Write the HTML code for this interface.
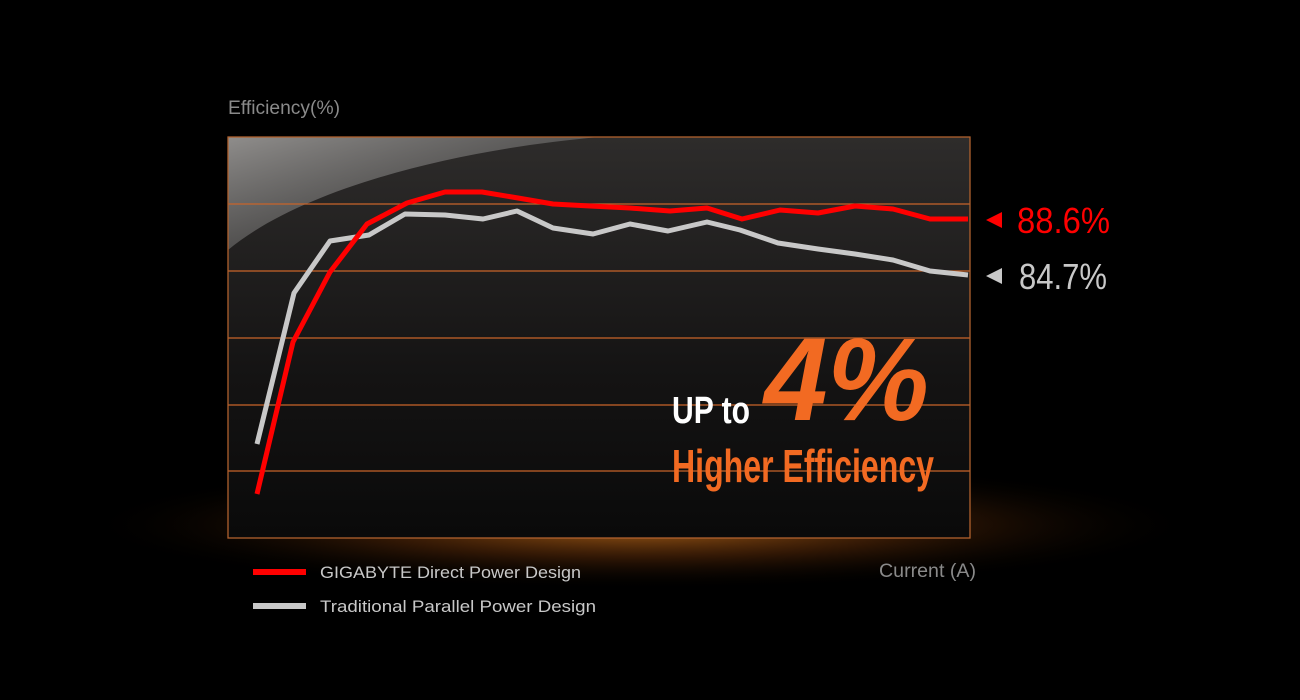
<!DOCTYPE html>
<html><head><meta charset="utf-8"><style>
html,body{margin:0;padding:0;background:#000;width:1300px;height:700px;overflow:hidden}
</style></head><body>
<svg width="1300" height="700" xmlns="http://www.w3.org/2000/svg" style="display:block">
<defs>
<radialGradient id="glow" cx="0.5" cy="0.5" r="0.5">
<stop offset="0" stop-color="#d0781e" stop-opacity="0.85"/>
<stop offset="0.5" stop-color="#7a3a0c" stop-opacity="0.4"/>
<stop offset="1" stop-color="#000" stop-opacity="0"/>
</radialGradient>
<linearGradient id="bg" x1="0" y1="0" x2="0" y2="1">
<stop offset="0" stop-color="#2e2c2b"/>
<stop offset="0.6" stop-color="#141313"/>
<stop offset="1" stop-color="#0a0a0a"/>
</linearGradient>
<linearGradient id="gloss" x1="0" y1="0" x2="1" y2="1">
<stop offset="0" stop-color="#9a9896" stop-opacity="0.9"/>
<stop offset="1" stop-color="#555" stop-opacity="0.2"/>
</linearGradient>
</defs>
<rect width="1300" height="700" fill="#000"/>
<ellipse cx="640" cy="525" rx="560" ry="65" fill="url(#glow)"/>
<rect x="228" y="137" width="742" height="401" fill="url(#bg)"/>
<path d="M228,137 L600,137 C450,150 300,190 228,250 Z" fill="url(#gloss)"/>
<g stroke="#c8642a" stroke-width="1.3">
<line x1="228" y1="204" x2="970" y2="204"/>
<line x1="228" y1="271" x2="970" y2="271"/>
<line x1="228" y1="338" x2="970" y2="338"/>
<line x1="228" y1="405" x2="970" y2="405"/>
<line x1="228" y1="471" x2="970" y2="471"/>
</g>
<rect x="228" y="137" width="742" height="401" fill="none" stroke="#b0612e" stroke-width="1.3"/>
<polyline fill="none" stroke="#c8c8c8" stroke-width="5" stroke-linejoin="round" points="257,444 294,293 330,241 369,235 405,214 445,215 483,219 517,211 553,228 593,234 630,224 668,231 707,222 740,230 778,243 818,249 855,254 893,260 930,271 968,275"/>
<polyline fill="none" stroke="#ff0000" stroke-width="5" stroke-linejoin="round" points="257,494 293,342 330,272 367,224 407,203 445,192 482,192 518,198 553,204 590,206 630,208 670,211 707,208 742,219 780,210 818,213 855,206 893,209 930,219 968,219"/>
<g font-family="Liberation Sans, sans-serif">
<text x="228" y="114" font-size="19" fill="#8a8a8a" textLength="112" lengthAdjust="spacingAndGlyphs">Efficiency(%)</text>
<text x="879" y="577" font-size="19" fill="#8a8a8a" textLength="97" lengthAdjust="spacingAndGlyphs">Current (A)</text>
<polygon points="986,220 1002,212 1002,228" fill="#ff0000"/>
<text x="1017" y="233" font-size="36" fill="#ff0000" textLength="93" lengthAdjust="spacingAndGlyphs">88.6%</text>
<polygon points="986,276 1002,268 1002,284" fill="#c8c8c8"/>
<text x="1019" y="289" font-size="36" fill="#c8c8c8" textLength="88" lengthAdjust="spacingAndGlyphs">84.7%</text>
<text x="672" y="423" font-size="38" font-weight="bold" fill="#fff" textLength="78" lengthAdjust="spacingAndGlyphs">UP to</text>
<text x="764" y="420" font-size="118" font-weight="bold" font-style="italic" fill="#f26a22" textLength="165" lengthAdjust="spacingAndGlyphs">4%</text>
<text x="672" y="482" font-size="46" font-weight="bold" fill="#f26a22" textLength="262" lengthAdjust="spacingAndGlyphs">Higher Efficiency</text>
<rect x="253" y="569" width="53" height="6" fill="#ff0000"/>
<text x="320" y="578" font-size="17" fill="#c8c8c8" textLength="261" lengthAdjust="spacingAndGlyphs">GIGABYTE Direct Power Design</text>
<rect x="253" y="603" width="53" height="6" fill="#c8c8c8"/>
<text x="320" y="612" font-size="17" fill="#c8c8c8" textLength="276" lengthAdjust="spacingAndGlyphs">Traditional Parallel Power Design</text>
</g>
</svg>
</body></html>
